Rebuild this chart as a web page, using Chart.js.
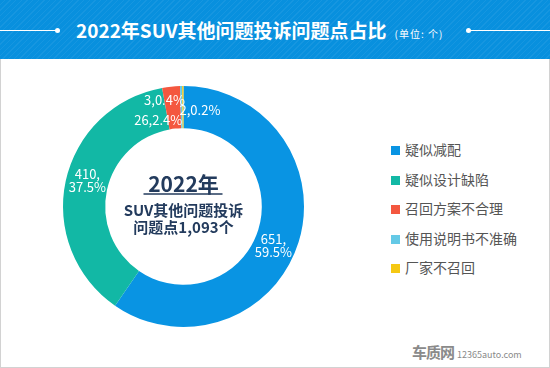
<!DOCTYPE html>
<html>
<head>
<meta charset="utf-8">
<script src="https://cdn.jsdelivr.net/npm/chart.js@4"></script>
<style>
  html, body { margin: 0; padding: 0; background: #fff; }
  body { width: 550px; height: 368px; position: relative; overflow: hidden; font-family: "Noto Sans CJK SC", "Noto Sans", sans-serif; }
  #frame { position: absolute; left: 0; top: 0; width: 548px; height: 366px; border: 1px solid #d2d2d2; }
  #header {
    position: absolute; left: 0; top: 0; width: 550px; height: 59px;
    background: repeating-linear-gradient(135deg, #0890de 0px, #0890de 3px, #1696e0 3px, #1696e0 4px);
  }
  #title { position: absolute; left: 76px; top: 17px; color: #fff; font-weight: bold; font-size: 19px; line-height: 26px; white-space: nowrap; }
  #title small { font-size: 10px; font-weight: normal; margin-left: 8px; letter-spacing: 1px; }
  .hline { position: absolute; top: 30px; height: 1px; background: #fff; }
  .dot { position: absolute; top: 28px; width: 5px; height: 5px; border-radius: 50%; background: #fff; }
  #chartBox { position: absolute; left: 0; top: 59px; width: 370px; height: 307px; }
  #legend { position: absolute; left: 391px; top: 0; }
  .item { position: absolute; left: 0; white-space: nowrap; font-size: 14px; color: #555; line-height: 18px; }
  .item span { display: inline-block; width: 9px; height: 9px; margin-right: 5px; vertical-align: 0px; }
  #mark { position: absolute; left: 412px; top: 339px; color: #8a8a8a; white-space: nowrap; }
  #mark b { font-size: 15px; letter-spacing: -1px; }
  #mark i { font-style: normal; font-size: 9px; margin-left: 3px; }
</style>
</head>
<body>
<div id="frame"></div>
<div id="header">
  <div class="hline" style="left:0;width:57px"></div>
  <div class="dot" style="left:55px"></div>
  <div id="title">2022年SUV其他问题投诉问题点占比<small>(单位: 个)</small></div>
  <div class="dot" style="left:466px"></div>
  <div class="hline" style="left:468px;width:82px"></div>
</div>
<div id="chartBox"><canvas id="chart"></canvas></div>
<div id="legend"></div>
<div id="mark"><b>车质网</b><i>12365auto.com</i></div>
<script>
const categories = ['疑似减配', '疑似设计缺陷', '召回方案不合理', '使用说明书不准确', '厂家不召回'];
const counts = [651, 410, 26, 3, 2];
const percents = ['59.5%', '37.5%', '2.4%', '0.4%', '0.2%'];
const colors = ['#0994e3', '#12b8a5', '#f4573f', '#64c9e6', '#f5c813'];
const totalText = '1,093';

// label nudges from the slice middle, and whether the label wraps onto two lines
const labelNudge = [[-5, 9], [1, -5], [-15, 12], [-17, -7], [17, 3]];
const labelWrap = [true, true, false, false, false];

const legend = document.getElementById('legend');
categories.forEach(function(name, i) {
  const div = document.createElement('div');
  div.className = 'item';
  div.style.top = (140 + i * 29.5) + 'px';
  div.innerHTML = '<span style="background:' + colors[i] + '"></span>' + name;
  legend.appendChild(div);
});

const sliceLabels = {
  id: 'sliceLabels',
  afterDatasetsDraw(chart) {
    const ctx = chart.ctx;
    const meta = chart.getDatasetMeta(0);
    ctx.save();
    ctx.fillStyle = '#fff';
    ctx.font = '13px "Noto Sans CJK SC"';
    ctx.textAlign = 'center';
    ctx.textBaseline = 'middle';
    meta.data.forEach(function(arc, i) {
      const p = arc.tooltipPosition();
      const x = p.x + labelNudge[i][0];
      const y = p.y + labelNudge[i][1];
      if (labelWrap[i]) {
        ctx.fillText(counts[i] + ',', x, y - 6.5);
        ctx.fillText(percents[i], x, y + 6.5);
      } else {
        ctx.fillText(counts[i] + ',' + percents[i], x, y);
      }
    });
    ctx.restore();
  }
};

const centerText = {
  id: 'centerText',
  afterDraw(chart) {
    const ctx = chart.ctx;
    const a = chart.chartArea;
    const cx = (a.left + a.right) / 2;
    const cy = (a.top + a.bottom) / 2;
    ctx.save();
    ctx.fillStyle = '#233b5d';
    ctx.strokeStyle = '#233b5d';
    ctx.textAlign = 'center';
    ctx.textBaseline = 'middle';
    ctx.font = 'bold 21px "Noto Sans CJK SC"';
    ctx.fillText('2022年', cx, cy - 22);
    ctx.lineWidth = 1.5;
    ctx.beginPath();
    ctx.moveTo(cx - 40, cy - 12.5);
    ctx.lineTo(cx + 39, cy - 12.5);
    ctx.stroke();
    ctx.font = 'bold 15px "Noto Sans CJK SC"';
    ctx.fillText('SUV其他问题投诉', cx, cy + 3.5);
    ctx.fillText('问题点' + totalText + '个', cx, cy + 21);
    ctx.restore();
  }
};

new Chart(document.getElementById('chart'), {
  type: 'doughnut',
  data: {
    labels: categories,
    datasets: [{
      data: counts,
      backgroundColor: colors,
      borderWidth: 0
    }]
  },
  options: {
    responsive: true,
    maintainAspectRatio: false,
    animation: false,
    cutout: '65%',
    layout: { padding: { left: 63, right: 66, top: 27, bottom: 39 } },
    plugins: {
      legend: { display: false },
      tooltip: { enabled: false }
    }
  },
  plugins: [sliceLabels, centerText]
});
</script>
</body>
</html>
